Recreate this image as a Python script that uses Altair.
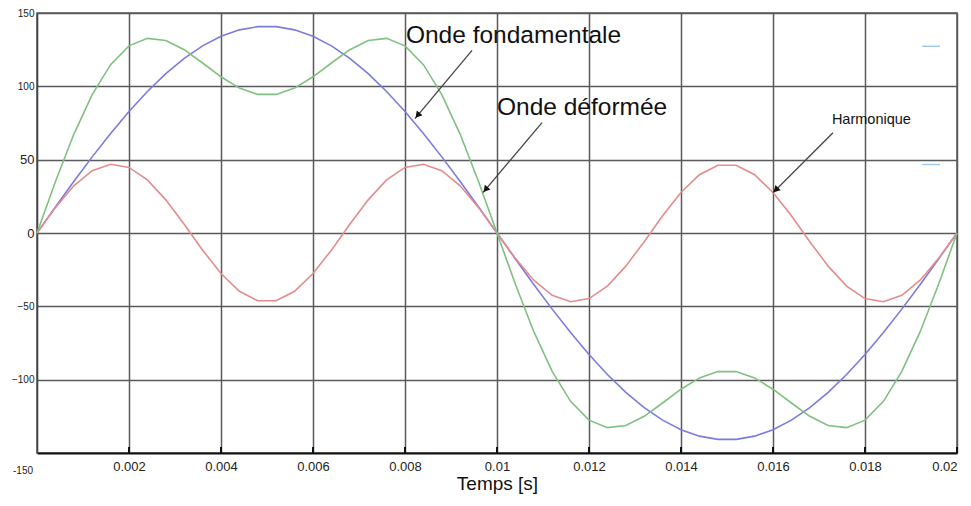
import altair as alt
import pandas as pd

# ---- data ----
t = [0, 0.0004, 0.0008, 0.0012, 0.0016, 0.002, 0.0024, 0.0028, 0.0032, 0.0036,
     0.004, 0.0044, 0.0048, 0.0052, 0.0056, 0.006, 0.0064, 0.0068, 0.0072, 0.0076,
     0.008, 0.0084, 0.0088, 0.0092, 0.0096, 0.01, 0.0104, 0.0108, 0.0112, 0.0116,
     0.012, 0.0124, 0.0128, 0.0132, 0.0136, 0.014, 0.0144, 0.0148, 0.0152, 0.0156,
     0.016, 0.0164, 0.0168, 0.0172, 0.0176, 0.018, 0.0184, 0.0188, 0.0192, 0.0196, 0.02]

fondamentale = [0, 17.7, 35.1, 51.9, 67.9, 82.9, 96.5, 108.6, 119.1, 127.6, 134.1, 138.5,
                140.7, 140.7, 138.5, 134.1, 127.6, 119.1, 108.6, 96.5, 82.9, 67.9, 51.9,
                35.1, 17.7, 0, -17.7, -35.1, -51.9, -67.9, -82.9, -96.5, -108.6, -119.1,
                -127.6, -134.1, -138.5, -140.7, -140.7, -138.5, -134.1, -127.6, -119.1,
                -108.6, -96.5, -82.9, -67.9, -51.9, -35.1, -17.7, 0]

harmonique = [0, 17.3, 32.2, 42.5, 46.9, 44.7, 36.2, 22.6, 5.9, -11.7, -27.6, -39.7,
              -46.2, -46.2, -39.7, -27.6, -11.7, 5.9, 22.6, 36.2, 44.7, 46.9, 42.5, 32.2,
              17.3, 0, -17.3, -32.2, -42.5, -46.9, -44.7, -36.2, -22.6, -5.9, 11.7, 27.6,
              39.7, 46.2, 46.2, 39.7, 27.6, 11.7, -5.9, -22.6, -36.2, -44.7, -46.9, -42.5,
              -32.2, -17.3, 0]

deformee = [0, 35.0, 67.3, 94.4, 114.8, 127.6, 132.7, 131.2, 125.0, 115.9, 106.5, 98.8,
            94.5, 94.5, 98.8, 106.5, 115.9, 125.0, 131.2, 132.7, 127.6, 114.8, 94.4, 67.3,
            35.0, 0, -35.0, -67.3, -94.4, -114.8, -127.6, -132.7, -131.2, -125.0, -115.9,
            -106.5, -98.8, -94.5, -94.5, -98.8, -106.5, -115.9, -125.0, -131.2, -132.7,
            -127.6, -114.8, -94.4, -67.3, -35.0, 0]

series_names = ["fondamentale", "harmonique", "deformee"]
series_colors = ["#7b7be0", "#e48c8c", "#80c080"]

x_ticks = [0.002, 0.004, 0.006, 0.008, 0.01, 0.012, 0.014, 0.016, 0.018, 0.02]
y_ticks = [-100, -50, 0, 50, 100, 150]

ann_text = ["Onde fondamentale", "Onde déformée", "Harmonique"]
ann_t = [0.00802, 0.01, 0.01728]
ann_y = [129.5, 80.5, 74.5]
ann_size = [24.5, 24.5, 14.5]

arr_t1 = [0.009457, 0.010978, 0.017304]
arr_y1 = [124.5, 75.3, 68.4]
arr_t2 = [0.008217, 0.009696, 0.016]
arr_y2 = [78.0, 27.5, 27.5]
head_t = [0.008274, 0.009752, 0.016061]
head_y = [80.2, 29.6, 29.4]
head_angle = [220, 220, 225]

dash_t1 = [0.01924, 0.01924]
dash_t2 = [0.01963, 0.01963]
dash_y = [127.3, 46.7]

# ---- tables ----
rows = []
for name, vals in zip(series_names, [fondamentale, harmonique, deformee]):
    for ti, v in zip(t, vals):
        rows.append({"t": ti, "v": v, "s": name})
df = pd.DataFrame(rows)

ann = pd.DataFrame({"txt": ann_text, "t": ann_t, "v": ann_y, "fs": ann_size})
arr = pd.DataFrame({"t": arr_t1, "v": arr_y1, "t2": arr_t2, "v2": arr_y2})
heads = pd.DataFrame({"t": head_t, "v": head_y, "ang": head_angle})
dashes = pd.DataFrame({"t": dash_t1, "t2": dash_t2, "v": dash_y})
ticks = pd.DataFrame({"t": x_ticks})
low = pd.DataFrame({"t": [0], "v": [-150], "txt": ["-150"]})

W, H = 920, 440
GRID = "#5a5a5a"
xs = alt.Scale(domain=[0, 0.02], nice=False, zero=False)
ys = alt.Scale(domain=[-150, 150], nice=False)

lines = alt.Chart(df).mark_line(strokeWidth=1.6).encode(
    x=alt.X("t:Q", scale=xs, title="Temps [s]",
            axis=alt.Axis(values=x_ticks, format="~g", grid=True, gridColor=GRID,
                          gridWidth=1.5, domainColor="#111", domainWidth=2, ticks=False,
                          labelFontSize=13, labelPadding=7, labelColor="#222",
                          labelFont="Liberation Sans", titleFont="Liberation Sans",
                          titleFontSize=19, titleFontWeight="normal", titleColor="#111",
                          titlePadding=1)),
    y=alt.Y("v:Q", scale=ys, title=None,
            axis=alt.Axis(values=y_ticks, grid=True, gridColor=GRID, gridWidth=1.5,
                          domainColor="#444", domainWidth=1.6, ticks=False,
                          labelFontSize={"condition": {"test": "datum.value == 0 || datum.value == 50", "value": 13}, "value": 10},
                          labelPadding=3, labelColor="#222", labelFont="Liberation Sans")),
    color=alt.Color("s:N", scale=alt.Scale(domain=series_names, range=series_colors), legend=None),
)

tick_marks = alt.Chart(ticks).mark_rule(color="#111", strokeWidth=2).encode(
    x=alt.X("t:Q", scale=xs), y=alt.value(H - 6), y2=alt.value(H)
)

arrows = alt.Chart(arr).mark_rule(color="#444", strokeWidth=1.3).encode(
    x=alt.X("t:Q", scale=xs), x2="t2:Q", y=alt.Y("v:Q", scale=ys), y2="v2:Q"
)

arrow_heads = alt.Chart(heads).mark_point(shape="triangle-up", filled=True, color="#111",
                                          opacity=1, size=55).encode(
    x=alt.X("t:Q", scale=xs), y=alt.Y("v:Q", scale=ys), angle=alt.Angle("ang:Q", scale=None)
)

texts = alt.Chart(ann).mark_text(align="left", baseline="alphabetic", font="Liberation Sans",
                                 color="#111").encode(
    x=alt.X("t:Q", scale=xs), y=alt.Y("v:Q", scale=ys), text="txt:N",
    size=alt.Size("fs:Q", scale=None)
)

blue_dashes = alt.Chart(dashes).mark_rule(color="#9cc8ee", strokeWidth=1.4).encode(
    x=alt.X("t:Q", scale=xs), x2="t2:Q", y=alt.Y("v:Q", scale=ys)
)

low_label = alt.Chart(low).mark_text(align="right", baseline="middle", dx=-4, dy=18,
                                     fontSize=10, font="Liberation Sans", color="#222").encode(
    x=alt.X("t:Q", scale=xs), y=alt.Y("v:Q", scale=ys), text="txt:N"
)

chart = alt.layer(lines, tick_marks, arrows, arrow_heads, texts, blue_dashes, low_label).properties(
    width=W, height=H,
    autosize=alt.AutoSizeParams(type="none"),
    padding={"left": 29, "top": 5, "right": 6, "bottom": 45},
    background="white",
).configure_view(stroke=GRID, strokeWidth=1.5)

chart.save("out.html", embed_options={"renderer": "svg", "actions": False})
